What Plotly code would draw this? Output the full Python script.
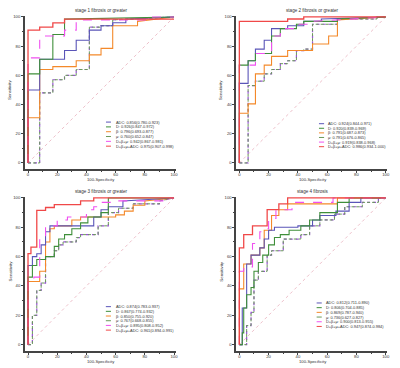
import plotly.graph_objects as go

# ---------------- data ----------------
titles = ["stage 1 fibrosis or greater", "stage 2 fibrosis or greater",
          "stage 3 fibrosis or greater", "stage 4 fibrosis"]
series_names = ["ADC", "D", "β", "μ", "D+β+μ", "D+β+μ+ADC"]

legend_p1 = ["ADC: 0.856(0.780-0.923)", "D: 0.926(0.847-0.972)", "β: 0.796(0.693-0.877)",
             "μ: 0.760(0.652-0.847)", "D+β+μ: 0.942(0.867-0.981)", "D+β+μ+ADC: 0.975(0.907-0.998)"]
legend_p2 = ["ADC: 0.924(0.844-0.971)", "D: 0.920(0.839-0.969)", "β: 0.791(0.687-0.873)",
             "μ: 0.791(0.676-0.865)", "D+β+μ: 0.919(0.838-0.968)", "D+β+μ+ADC: 0.986(0.934-1.000)"]
legend_p3 = ["ADC: 0.874(0.783-0.937)", "D: 0.867(0.774-0.932)", "β: 0.850(0.755-0.920)",
             "μ: 0.767(0.668-0.855)", "D+β+μ: 0.895(0.808-0.952)", "D+β+μ+ADC: 0.961(0.894-0.991)"]
legend_p4 = ["ADC: 0.812(0.711-0.890)", "D: 0.806(0.704-0.885)", "β: 0.869(0.787-0.940)",
             "μ: 0.736(0.627-0.827)", "D+β+μ: 0.900(0.813-0.955)", "D+β+μ+ADC: 0.947(0.874-0.984)"]

# ROC step points (100-specificity, sensitivity)
p1_adc_x = [0, 0, 8, 8, 17, 17, 25, 25, 33, 33, 42, 42, 50, 50, 58, 58, 67, 67, 100]
p1_adc_y = [0, 50, 50, 71, 71, 71, 71, 77, 77, 84, 84, 91, 91, 94, 94, 96, 96, 98.5, 100]
p1_d_x = [0, 0, 8, 8, 17, 17, 25, 25, 100]
p1_d_y = [0, 61, 61, 71, 71, 88, 88, 98.5, 100]
p1_b_x = [0, 0, 8, 8, 17, 17, 33, 33, 42, 42, 50, 50, 58, 58, 75, 75, 100]
p1_b_y = [0, 31, 31, 64, 64, 66, 66, 70, 70, 74, 74, 78.5, 78.5, 94, 94, 97, 100]
p1_m_x = [0, 8, 8, 17, 17, 25, 25, 33, 33, 42, 42, 50, 50, 58, 58, 100]
p1_m_y = [0, 0, 48, 48, 57, 57, 60, 60, 64, 64, 93, 93, 94, 94, 98, 100]
p1_dbm_x = [0, 0, 8, 8, 25, 25, 33, 33, 83, 83, 100]
p1_dbm_y = [0, 72, 72, 87, 87, 91, 91, 98, 98, 100, 100]
p1_all_x = [0, 0, 8, 8, 17, 17, 25, 25, 100]
p1_all_y = [0, 91, 91, 93, 93, 96, 96, 98.5, 98.5]

p2_adc_x = [0, 0, 6, 6, 11, 11, 17, 17, 22, 22, 33, 33, 44, 44, 56, 56, 100]
p2_adc_y = [0, 54.5, 54.5, 70, 70, 78, 78, 84, 84, 92, 92, 94, 94, 97, 97, 98.6, 100]
p2_d_x = [0, 0, 6, 6, 11, 11, 22, 22, 28, 28, 39, 39, 44, 44, 67, 67, 100]
p2_d_y = [0, 67, 67, 70, 70, 75, 75, 87, 87, 92, 92, 95, 95, 97, 97, 98.6, 100]
p2_b_x = [0, 0, 6, 6, 11, 11, 17, 17, 22, 22, 33, 33, 50, 50, 61, 61, 67, 67, 100]
p2_b_y = [0, 34, 34, 40.5, 40.5, 61, 61, 67, 67, 73, 73, 77, 77, 81.5, 81.5, 87, 87, 98, 100]
p2_m_x = [0, 6, 6, 11, 11, 17, 17, 22, 22, 28, 28, 33, 33, 39, 39, 44, 44, 50, 50, 67, 67, 94, 94, 100]
p2_m_y = [0, 0, 53, 53, 56, 56, 61, 61, 64, 64, 68, 68, 70, 70, 77, 77, 78, 78, 95, 95, 98.6, 98.6, 100, 100]
p2_dbm_x = [0, 0, 11, 11, 22, 22, 28, 28, 39, 39, 50, 50, 100]
p2_dbm_y = [0, 67, 67, 75, 75, 87, 87, 92, 92, 95, 95, 97, 100]
p2_all_x = [0, 0, 33, 33, 44, 44, 100]
p2_all_y = [0, 97, 97, 98.6, 98.6, 100, 100]

p3_adc_x = [0, 0, 3, 3, 6, 6, 9, 9, 12, 12, 15, 15, 45, 45, 50, 50, 55, 55, 65, 65, 100]
p3_adc_y = [0, 54, 54, 60, 60, 62, 62, 68, 68, 77, 77, 81, 81, 87, 87, 92, 92, 94, 94, 98, 100]
p3_d_x = [0, 0, 3, 3, 6, 6, 12, 12, 18, 18, 21, 21, 25, 25, 30, 30, 36, 36, 41, 41, 50, 50, 55, 55, 100]
p3_d_y = [0, 46, 46, 54, 54, 58, 58, 60, 60, 67, 67, 72, 72, 75, 75, 79, 79, 83, 83, 87, 87, 90, 90, 100, 100]
p3_b_x = [0, 0, 8, 8, 12, 12, 15, 15, 18, 18, 30, 30, 36, 36, 60, 60, 66, 66, 72, 72, 80, 80, 100]
p3_b_y = [0, 43, 43, 50, 50, 70, 70, 79, 79, 81, 81, 85, 85, 87, 87, 88.5, 88.5, 91, 91, 95, 95, 98, 100]
p3_m_x = [0, 3, 3, 6, 6, 9, 9, 12, 12, 18, 18, 21, 21, 24, 24, 33, 33, 36, 36, 48, 48, 55, 55, 62, 62, 72, 72, 90, 90, 100]
p3_m_y = [0, 0, 20, 20, 37, 37, 42, 42, 60, 60, 64, 64, 68, 68, 70, 70, 73, 73, 75, 75, 81, 81, 90, 90, 93, 93, 96, 96, 98, 100]
p3_dbm_x = [0, 0, 4, 4, 8, 8, 12, 12, 20, 20, 27, 27, 40, 40, 45, 45, 48, 48, 60, 60, 93, 93, 100]
p3_dbm_y = [0, 44, 44, 46, 46, 73, 73, 81, 81, 85, 85, 87, 87, 92, 92, 94, 94, 97, 97, 98, 98, 100, 100]
p3_all_x = [0, 0, 2, 2, 6, 6, 12, 12, 18, 18, 36, 36, 45, 45, 100]
p3_all_y = [0, 62, 62, 66.5, 66.5, 91.5, 91.5, 93.5, 93.5, 95.5, 95.5, 98, 98, 100, 100]

p4_adc_x = [0, 2, 2, 5, 5, 8, 8, 14, 14, 17, 17, 20, 20, 24, 24, 40, 40, 50, 50, 55, 55, 66, 66, 75, 75, 83, 83, 100]
p4_adc_y = [0, 0, 25, 25, 55, 55, 61, 61, 66, 66, 72, 72, 78, 78, 80, 80, 81, 81, 85, 85, 88, 88, 91, 91, 97, 97, 100, 100]
p4_d_x = [0, 2, 2, 3, 3, 5, 5, 8, 8, 10, 10, 13, 13, 16, 16, 20, 20, 24, 24, 28, 28, 34, 34, 42, 42, 48, 48, 55, 55, 67, 67, 75, 75, 100]
p4_d_y = [0, 0, 8, 8, 25, 25, 34, 34, 39, 39, 50, 50, 56, 56, 61, 61, 68, 68, 73, 73, 75, 75, 78, 78, 81, 81, 85, 85, 90, 90, 97, 97, 100, 100]
p4_b_x = [0, 0, 3, 3, 8, 8, 14, 14, 17, 17, 22, 22, 27, 27, 33, 33, 67, 67, 100]
p4_b_y = [0, 38, 38, 55, 55, 61, 61, 66, 66, 78, 78, 88, 88, 92, 92, 96, 96, 100, 100]
p4_m_x = [0, 5, 5, 8, 8, 10, 10, 13, 13, 19, 19, 22, 22, 30, 30, 42, 42, 48, 48, 55, 55, 65, 65, 72, 72, 84, 84, 95, 95, 100]
p4_m_y = [0, 0, 13, 13, 22, 22, 44, 44, 50, 50, 61, 61, 64, 64, 72, 72, 75, 75, 81, 81, 85, 85, 89, 89, 94, 94, 97, 97, 100, 100]
p4_dbm_x = [0, 0, 3, 3, 9, 9, 14, 14, 17, 17, 20, 20, 25, 25, 36, 36, 64, 64, 100]
p4_dbm_y = [0, 50, 50, 53, 53, 69, 69, 77, 77, 79, 79, 86, 86, 92, 92, 97, 97, 100, 100]
p4_all_x = [0, 0, 3, 3, 9, 9, 19, 19, 27, 27, 33, 33, 100]
p4_all_y = [0, 66, 66, 75, 75, 81, 81, 92, 92, 96, 96, 100, 100]

ref_x = [0, 100]
ref_y = [0, 100]
tick_vals = [0, 20, 40, 60, 80, 100]

# legend positions per panel (data units): line start, line end, text x, first row y, row step
leg_pos = [(53.4, 56.8, 58.8, 28.0, 3.3),
           (54.4, 57.9, 59.2, 26.9, 3.15),
           (53.3, 56.8, 58.6, 25.9, 3.2),
           (52.8, 56.3, 57.8, 28.4, 3.2)]

panels = [
    ([(p1_adc_x, p1_adc_y), (p1_d_x, p1_d_y), (p1_b_x, p1_b_y), (p1_m_x, p1_m_y),
      (p1_dbm_x, p1_dbm_y), (p1_all_x, p1_all_y)], legend_p1),
    ([(p2_adc_x, p2_adc_y), (p2_d_x, p2_d_y), (p2_b_x, p2_b_y), (p2_m_x, p2_m_y),
      (p2_dbm_x, p2_dbm_y), (p2_all_x, p2_all_y)], legend_p2),
    ([(p3_adc_x, p3_adc_y), (p3_d_x, p3_d_y), (p3_b_x, p3_b_y), (p3_m_x, p3_m_y),
      (p3_dbm_x, p3_dbm_y), (p3_all_x, p3_all_y)], legend_p3),
    ([(p4_adc_x, p4_adc_y), (p4_d_x, p4_d_y), (p4_b_x, p4_b_y), (p4_m_x, p4_m_y),
      (p4_dbm_x, p4_dbm_y), (p4_all_x, p4_all_y)], legend_p4),
]

# ---------------- styles ----------------
colors = ["#5a55b8", "#3f8f3a", "#f4892a", "#6a9a5a", "#f050f0", "#f04848"]
dashes = ["solid", "solid", "solid", "dash", "dash", "solid"]
mu_under = "#9a50d8"

W, H = 400, 368
xdom = [[25.1 / W, 175.5 / W], [236.4 / W, 387.2 / W]]
ydom = [[1 - 168.8 / H, 1 - 15.5 / H], [1 - 350.5 / H, 1 - 196.5 / H]]

fig = go.Figure()
font_fam = "Liberation Sans, Arial, sans-serif"
axis_color = "#444444"
txt_color = "#333333"

for i, (curves, leg_texts) in enumerate(panels):
    ax = "" if i == 0 else str(i + 1)
    xa, ya = "x" + ax, "y" + ax
    col = i % 2
    row = i // 2
    fig.add_trace(go.Scatter(x=ref_x, y=ref_y, mode="lines", xaxis=xa, yaxis=ya,
                             line=dict(color="#e8b0bc", width=0.8, dash="dot"),
                             showlegend=False, hoverinfo="skip"))
    order = [3, 2, 0, 1, 4, 5]
    for k in order:
        cx, cy = curves[k]
        if k == 3:
            fig.add_trace(go.Scatter(x=cx, y=cy, mode="lines", xaxis=xa, yaxis=ya,
                                     line=dict(color=mu_under, width=1.2, dash="dot"),
                                     showlegend=False, hoverinfo="skip"))
            fig.add_trace(go.Scatter(x=cx, y=cy, mode="lines", xaxis=xa, yaxis=ya,
                                     line=dict(color=colors[k], width=1.0, dash="3px,2px"),
                                     showlegend=False, name=series_names[k]))
        else:
            fig.add_trace(go.Scatter(x=cx, y=cy, mode="lines", xaxis=xa, yaxis=ya,
                                     line=dict(color=colors[k], width=1.1 if k != 5 else 1.3,
                                               dash=dashes[k]),
                                     showlegend=False, name=series_names[k]))
    lx0, lx1, tx, ly0, step = leg_pos[i]
    for k in range(6):
        yy = ly0 - k * step
        fig.add_trace(go.Scatter(x=[lx0, lx1], y=[yy, yy], mode="lines", xaxis=xa, yaxis=ya,
                                 line=dict(color=colors[k], width=1, dash=dashes[k]),
                                 showlegend=False, hoverinfo="skip"))
        fig.add_annotation(x=tx, y=yy, xref=xa, yref=ya, text=leg_texts[k], showarrow=False,
                           xanchor="left", yanchor="middle",
                           font=dict(size=3.9, color=txt_color, family=font_fam))
    # panel title
    fig.add_annotation(x=50, y=1, xref=xa, yref=ya + " domain",
                       text=titles[i], showarrow=False, xanchor="center", yanchor="middle",
                       yshift=5, font=dict(size=4.6, color=txt_color, family=font_fam))
    # axis titles
    fig.add_annotation(x=50, y=0, xref=xa, yref=ya + " domain",
                       text="100-Specificity", showarrow=False, xanchor="center",
                       yanchor="middle", yshift=-10.5,
                       font=dict(size=4.2, color=txt_color, family=font_fam))
    fig.add_annotation(x=0, y=50, xref=xa + " domain", yref=ya,
                       text="Sensitivity", showarrow=False, xanchor="center",
                       yanchor="middle", xshift=-15, textangle=-90,
                       font=dict(size=4.4, color=txt_color, family=font_fam))

    axis_common = dict(showgrid=False, zeroline=False, showline=True, linecolor=axis_color,
                       linewidth=1.6, ticks="outside", ticklen=2.2, tickwidth=0.8,
                       tickcolor=axis_color, tickvals=tick_vals, automargin=False,
                       tickfont=dict(size=4.2, color=txt_color, family=font_fam),
                       minor=dict(ticks="outside", ticklen=1.4, tickwidth=0.6,
                                  tickcolor=axis_color, dtick=10, showgrid=False),
                       mirror=False)
    fig.update_layout(**{
        ("xaxis" + ax): dict(domain=xdom[col], range=[-2, 101], anchor=ya,
                             ticklabelstandoff=-2, **axis_common),
        ("yaxis" + ax): dict(domain=ydom[row], range=[-4, 101], anchor=xa, **axis_common),
    })

fig.update_layout(width=W, height=H, margin=dict(l=0, r=0, t=0, b=0, autoexpand=False),
                  paper_bgcolor="white", plot_bgcolor="white", showlegend=False)

fig.write_html("out.html", config={"displayModeBar": False},
               post_script="document.body.style.margin='0px';")
